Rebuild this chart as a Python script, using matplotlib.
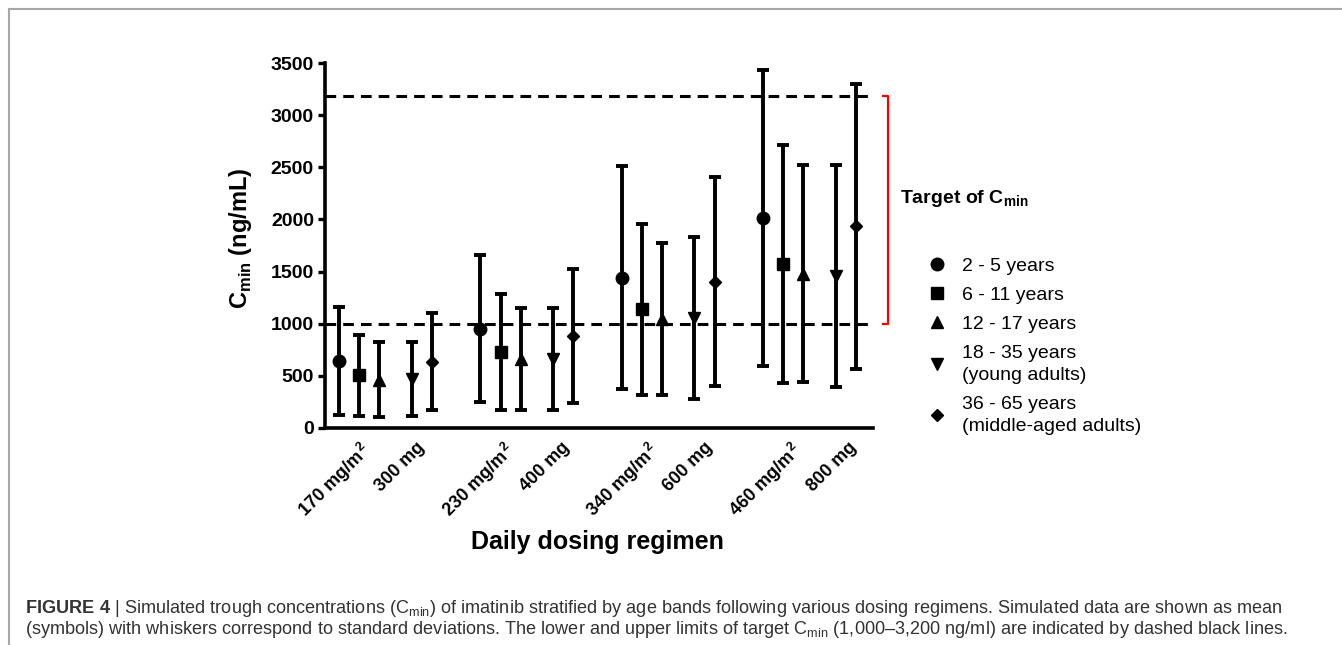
import matplotlib
matplotlib.use("Agg")
import matplotlib.pyplot as plt
from matplotlib.lines import Line2D

plt.rcParams['font.family'] = ['Liberation Sans', 'DejaVu Sans']
plt.rcParams['mathtext.fontset'] = 'custom'
plt.rcParams['mathtext.rm'] = 'Liberation Sans'
plt.rcParams['mathtext.bf'] = 'Liberation Sans:bold'

# dosing regimens (x tick labels)
regimens = [r'170 mg/m$^{\,\mathdefault{2}}$', '300 mg',
            r'230 mg/m$^{\,\mathdefault{2}}$', '400 mg',
            r'340 mg/m$^{\,\mathdefault{2}}$', '600 mg',
            r'460 mg/m$^{\,\mathdefault{2}}$', '800 mg']

age_bands = ['2 - 5 years', '6 - 11 years', '12 - 17 years',
             '18 - 35 years\n(young adults)', '36 - 65 years\n(middle-aged adults)']
markers = ['o', 's', '^', 'v', 'D']
msizes = [9, 8, 8.5, 8.5, 6]

# simulated Cmin, mean and SD per dose level (ng/mL)
mean_2_5 = [645, 953, 1440, 2012]
sd_2_5 = [520, 703, 1069, 1417]
mean_6_11 = [505, 729, 1137, 1573]
sd_6_11 = [387, 559, 823, 1138]
mean_12_17 = [465, 665, 1044, 1480]
sd_12_17 = [360, 489, 730, 1039]
mean_18_35 = [468, 662, 1053, 1456]
sd_18_35 = [356, 492, 778, 1063]
mean_36_65 = [636, 885, 1403, 1935]
sd_36_65 = [466, 642, 1003, 1366]

means = [mean_2_5, mean_6_11, mean_12_17, mean_18_35, mean_36_65]
sds = [sd_2_5, sd_6_11, sd_12_17, sd_18_35, sd_36_65]

target_low = 1000
target_high = 3180

level_x = [0, 7, 14, 21]
offsets = [0, 1, 2, 3.6, 4.6]
tick_x = [1.0, 3.81, 8.15, 10.99, 15.25, 18.07, 22.35, 25.2]

fig = plt.figure(figsize=(13.42, 6.45), dpi=100)
ax = fig.add_axes([325 / 1342, 1 - 428 / 645, 548 / 1342, 365 / 645])

ax.axhline(target_low, color='k', lw=2.2, ls=(0, (3.5, 2.3)), zorder=1)
ax.axhline(target_high, color='k', lw=2.2, ls=(0, (3.5, 2.3)), zorder=1)

handles = []
for i in range(5):
    xs = [lx + offsets[i] for lx in level_x]
    c = ax.errorbar(xs, means[i], yerr=sds[i], fmt=markers[i], ms=msizes[i],
                    color='k', ecolor='k', elinewidth=2.8, capsize=4.6,
                    capthick=2.8, zorder=3)
    handles.append(c.lines[0])

ax.set_xlim(-0.7, 26.45)
ax.set_ylim(0, 3500)
ax.set_yticks(range(0, 3501, 500))
ax.set_xticks(tick_x)
ax.set_xticklabels(regimens, rotation=45, ha='right', va='top',
                   rotation_mode='anchor', fontweight='bold', fontsize=13)
for lab in ax.get_yticklabels():
    lab.set_fontweight('bold')
ax.tick_params(axis='y', labelsize=14, length=5, width=2.4, pad=3)
ax.tick_params(axis='x', length=0, pad=8)

for side in ['top', 'right']:
    ax.spines[side].set_visible(False)
for side in ['left', 'bottom']:
    ax.spines[side].set_linewidth(2.6)

ax.set_ylabel(r'$\mathdefault{C}_{\mathdefault{min}}$ (ng/mL)',
              fontsize=17, fontweight='bold')
ax.yaxis.set_label_coords(-0.155, 0.52)
ax.yaxis.label.set_va('center')
ax.set_xlabel('Daily dosing regimen', fontsize=18, fontweight='bold')
ax.xaxis.set_label_coords(0.498, -0.312)
ax.xaxis.label.set_va('center')

# red bracket marking the target range
ax.plot([26.93, 27.18, 27.18, 26.93],
        [target_low, target_low, target_high, target_high],
        color='red', lw=1.6, clip_on=False)
ax.text(27.77, (target_low + target_high) / 2 + 110,
        r'Target of $\mathdefault{C}_{\mathdefault{min}}$',
        fontsize=14, fontweight='bold', va='center', ha='left')

leg = ax.legend(handles, age_bands, loc='upper left',
                bbox_to_anchor=(927 / 1342, 1 - 257 / 645),
                bbox_transform=fig.transFigure, frameon=False, fontsize=14,
                handlelength=1.0, handletextpad=0.8, labelspacing=0.6,
                borderpad=0, borderaxespad=0)
for t in leg.get_texts():
    t.set_linespacing(1.4)

# panel frame
fig.add_artist(Line2D([9 / 1342, 1], [1 - 8.5 / 645, 1 - 8.5 / 645],
                      transform=fig.transFigure, color='#a8a8a8', lw=1.5))
fig.add_artist(Line2D([9 / 1342, 9 / 1342], [0, 1 - 8.5 / 645],
                      transform=fig.transFigure, color='#a8a8a8', lw=1.5))

cap1 = (r'$\mathbf{FIGURE\ 4}$ | Simulated trough concentrations '
        r'($\mathdefault{C}_{\mathdefault{min}}$) of imatinib stratified by age bands '
        r'following various dosing regimens. Simulated data are shown as mean')
cap2 = (r'(symbols) with whiskers correspond to standard deviations. The lower and '
        r'upper limits of target $\mathdefault{C}_{\mathdefault{min}}$ (1,000–3,200 ng/ml) '
        r'are indicated by dashed black lines.')
fig.text(25 / 1342, 1 - 613 / 645, cap1, fontsize=13.05, color='#333333',
         va='baseline')
fig.text(25 / 1342, 1 - 634 / 645, cap2, fontsize=13.05, color='#333333',
         va='baseline')

fig.savefig('out.png', dpi=100)
